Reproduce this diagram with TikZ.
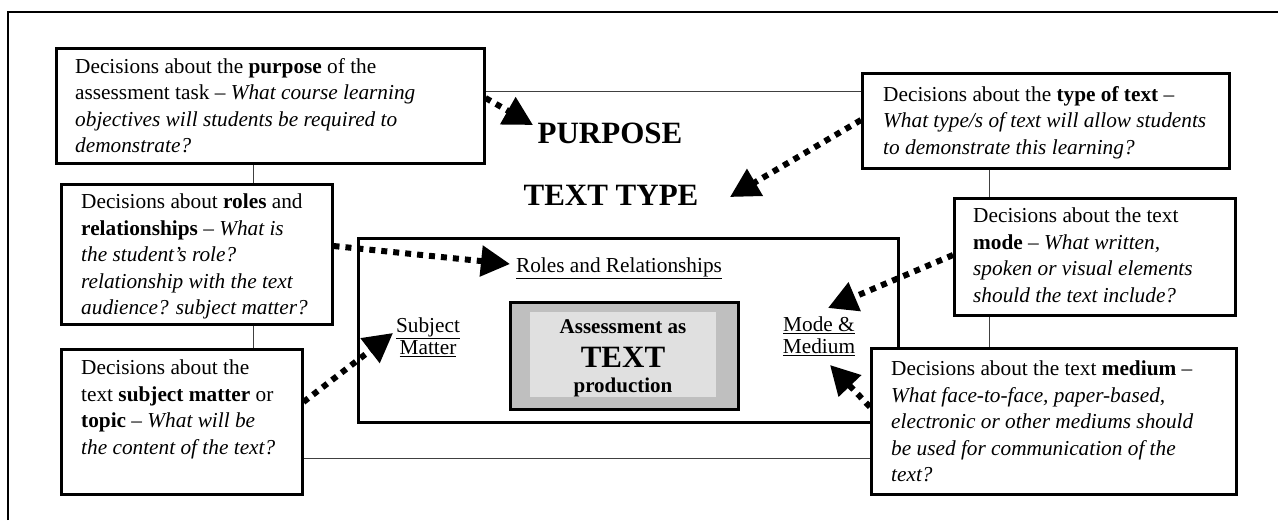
\documentclass[tikz,border=0pt]{standalone}
\usepackage{fontspec}
\setmainfont{Liberation Serif}
\usetikzlibrary{arrows.meta}
\tikzset{
  boxframe/.style={draw, line width=2.5pt, fill=white, anchor=north west, inner sep=0pt},
  boxtext/.style={anchor=north west, align=left, inner sep=0pt,
    font=\fontsize{21.3}{26.5}\selectfont},
  thinline/.style={draw=black!75, line width=1pt},
  dotarrow/.style={line width=6pt, dash pattern=on 6pt off 6pt,
    -{Triangle[length=29pt,width=30pt]}, shorten >=0pt},
  biglabel/.style={font=\fontsize{31}{34}\selectfont\bfseries, inner sep=0pt},
  lbl/.style={font=\fontsize{21.3}{22}\selectfont, align=center, inner sep=0pt},
}
\begin{document}
\begin{tikzpicture}[x=1pt,y=-1pt]
\useasboundingbox (0,0) rectangle (1278,520);
% outer frame
\draw[line width=1.5pt] (8,520) -- (8,12) -- (1278,12);
% thin background rectangle
\node[thinline, anchor=north west, minimum width=736pt, minimum height=367pt, inner sep=0pt] (bg) at (253,91) {};
% inner thick box
\node[draw, line width=2.5pt, anchor=north west, minimum width=540pt, minimum height=184pt, inner sep=0pt] (inner) at (357,237) {};
% central grey box
\node[draw, line width=2.5pt, fill=black!25, anchor=north west, minimum width=228pt, minimum height=107pt, inner sep=0pt] (core) at (509,301) {};
\node[fill=black!12, anchor=north west, minimum width=186pt, minimum height=85pt, inner sep=0pt] (corein) at (530,312) {};
\node[lbl, font=\fontsize{21}{22}\selectfont\bfseries] (assess) at (623,327) {Assessment as};
\node[lbl, font=\fontsize{31}{32}\selectfont\bfseries] (textw) at (623,357) {TEXT};
\node[lbl, font=\fontsize{21}{22}\selectfont\bfseries] (prod) at (623,387) {production};
% labels
\node[biglabel] (purposelbl) at (610,133) {PURPOSE};
\node[biglabel] (typelbl) at (611,195) {TEXT TYPE};
\node[lbl] (roleslbl) at (619,268) {\underline{Roles and Relationships}};
\node[lbl] (subjlbl) at (428,337) {\underline{Subject}\\\underline{Matter}};
\node[lbl] (modelbl) at (819,336) {\underline{Mode \&}\\\underline{Medium}};
% boxes
\node[boxframe, minimum width=428pt, minimum height=115pt] (purpose) at (55,47) {};
\node[boxtext] (purposet) at (75,58) {Decisions about the \textbf{purpose} of the\\assessment task – \textit{What course learning}\\\textit{objectives will students be required to}\\\textit{demonstrate?}};
\node[boxframe, minimum width=271pt, minimum height=140pt] (roles) at (60,183) {};
\node[boxtext] (rolest) at (81,194) {Decisions about \textbf{roles} and\\\textbf{relationships} – \textit{What is}\\\textit{the student’s role?}\\\textit{relationship with the text}\\\textit{audience? subject matter?}};
\node[boxframe, minimum width=241pt, minimum height=145pt] (subject) at (60,348) {};
\node[boxtext] (subjectt) at (81,360) {Decisions about the\\text \textbf{subject matter} or\\\textbf{topic} – \textit{What will be}\\\textit{the content of the text?}};
\node[boxframe, minimum width=367pt, minimum height=95pt] (type) at (861,72) {};
\node[boxtext] (typet) at (883,86) {Decisions about the \textbf{type of text} –\\\textit{What type/s of text will allow students}\\\textit{to demonstrate this learning?}};
\node[boxframe, minimum width=281pt, minimum height=117pt] (mode) at (953,197) {};
\node[boxtext] (modet) at (973,208) {Decisions about the text\\\textbf{mode} – \textit{What written,}\\\textit{spoken or visual elements}\\\textit{should the text include?}};
\node[boxframe, minimum width=365pt, minimum height=146pt] (medium) at (870,347) {};
\node[boxtext] (mediumt) at (891,361) {Decisions about the text \textbf{medium} –\\\textit{What face-to-face, paper-based,}\\\textit{electronic or other mediums should}\\\textit{be used for communication of the}\\\textit{text?}};
% arrow end points
\coordinate (tipP) at (533,125);
\coordinate (tipT) at (730,197);
\coordinate (tipR) at (510,264);
\coordinate (tipS) at (393,333);
\coordinate (tipM) at (828,308);
\coordinate (tipMe) at (830,365);
% arrows
\draw[dotarrow] (purpose.north east |- 0,98) -- (tipP);
\draw[dotarrow] (type.north west |- 0,120) -- (tipT);
\draw[dotarrow] (roles.north east |- 0,246) -- (tipR);
\draw[dotarrow] (subject.north east |- 0,402) -- (tipS);
\draw[dotarrow] (mode.north west |- 0,255) -- (tipM);
\draw[dotarrow] (medium.north west |- 0,407) -- (tipMe);
\end{tikzpicture}
\end{document}
